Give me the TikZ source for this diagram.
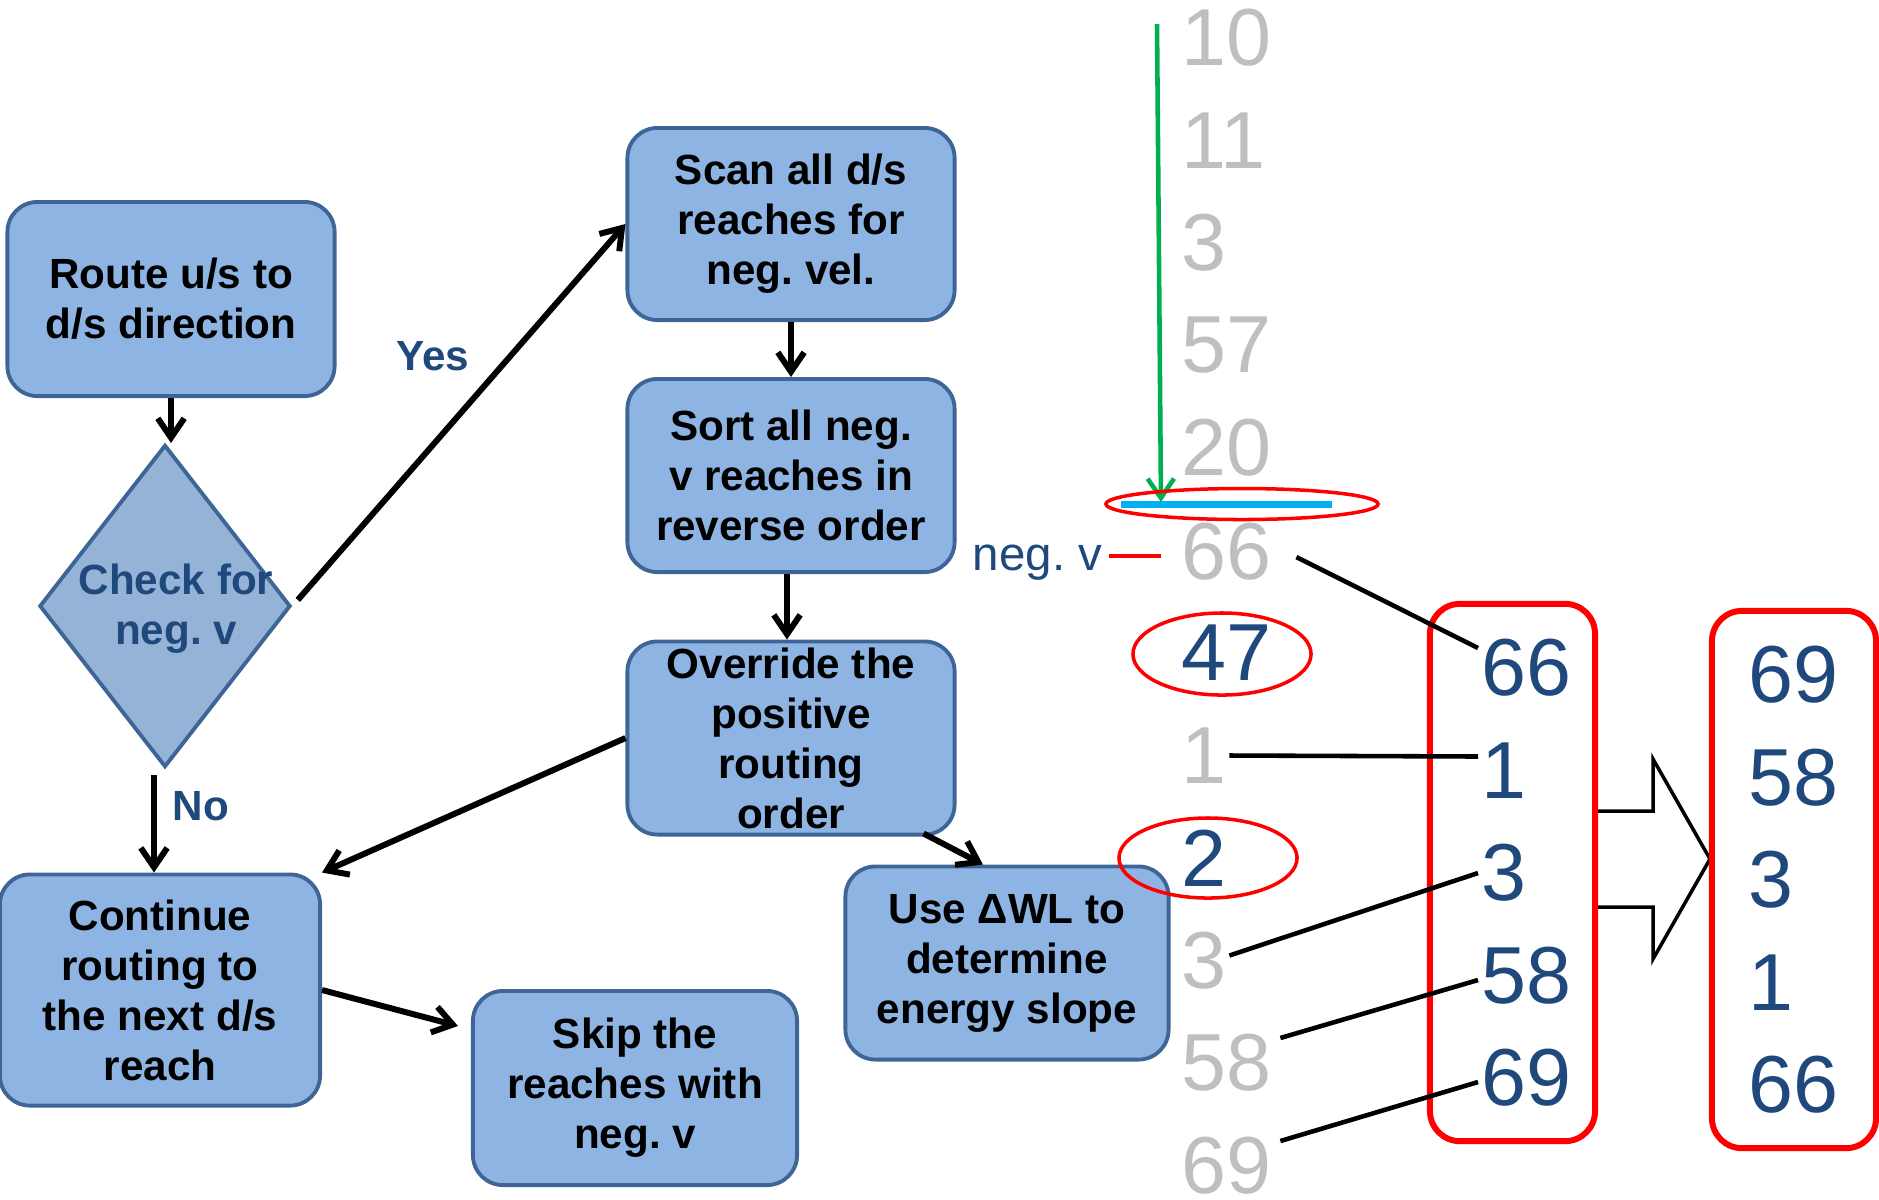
\documentclass[tikz,border=0pt]{standalone}
\usepackage{fontspec}
\setmainfont{Liberation Sans}
\usetikzlibrary{arrows.meta,shapes.geometric}
\definecolor{boxfill}{HTML}{8EB4E3}
\definecolor{boxline}{HTML}{3D6596}
\definecolor{diafill}{HTML}{95B3D7}
\definecolor{dblue}{HTML}{1F497D}
\definecolor{numgray}{HTML}{BFBFBF}
\definecolor{cyanline}{HTML}{00B0F0}
\definecolor{greenline}{HTML}{00B050}
\frenchspacing
\begin{document}
\begin{tikzpicture}[x=0.01cm,y=-0.01cm,
  flowbox/.style={draw=boxline, fill=boxfill, line width=1.1pt, rounded corners=0.3cm,
    align=center, inner sep=0pt, font=\bfseries\fontsize{12}{14.2}\selectfont, minimum width=3.27cm},
  arr/.style={line width=1.7pt, -{Straight Barb[length=5.5pt,width=7.5pt]}},
  gnum/.style={anchor=west, inner sep=0pt, text=numgray, font=\fontsize{23}{27}\selectfont},
  bnum/.style={gnum, text=dblue},
  link/.style={line width=1.3pt},
  redring/.style={draw=red, line width=1pt},
  redbox/.style={draw=red, line width=1.7pt, rounded corners=0.3cm, inner sep=0pt, minimum width=1.65cm, minimum height=5.37cm},
  lbl/.style={text=dblue, font=\bfseries\fontsize{12}{14.2}\selectfont, inner sep=0pt}
]
\useasboundingbox (0,0) rectangle (1879,1199);

% flowchart
\node[flowbox, minimum height=1.94cm] (route) at (171,299) {Route u/s to\\d/s direction};
\node[diamond, draw=boxline, fill=diafill, line width=1.1pt, minimum width=2.51cm,
  minimum height=3.22cm, inner sep=0pt] (dia) at (165,606) {};
\node[lbl, align=center] (diatext) at (176,609) {Check for\\neg. v};
\node[flowbox, minimum height=1.92cm] (scan) at (791,224) {Scan all d/s\\reaches for\\neg. vel.};
\node[flowbox, minimum height=1.93cm] (sort) at (791,475.5) {Sort all neg.\\v reaches in\\reverse order};
\node[flowbox, minimum height=1.93cm] (over) at (791,738) {Override the\\positive\\routing\\order};
\node[flowbox, minimum width=3.23cm, minimum height=1.93cm] (usewl) at (1007,963) {Use ΔWL to\\determine\\energy slope};
\node[flowbox, minimum width=3.20cm, minimum height=2.31cm] (cont) at (160,990) {Continue\\routing to\\the next d/s\\reach};
\node[flowbox, minimum width=3.24cm, minimum height=1.94cm] (skip) at (635,1088) {Skip the\\reaches with\\neg. v};

\node[lbl] (yes) at (433,356) {Yes};
\node[lbl] (no) at (201,806) {No};

\draw[arr] (route.south) -- (route.south |- dia.north);
\draw[arr, shorten <=2.3pt] (dia.east) -- (scan.west);
\draw[arr] ([xshift=-0.11cm,yshift=-0.06cm]dia.south) -- ([xshift=-0.06cm]cont.north);
\draw[arr] (scan.south) -- (sort.north);
\draw[arr] ([xshift=-0.04cm]sort.south) -- ([xshift=-0.04cm]over.north);
\draw[arr] (over.west) -- (cont.north east);
\draw[arr] ([xshift=-0.33cm,yshift=0.03cm]over.south east) -- ([xshift=-0.24cm]usewl.north);
\draw[arr] (cont.east) -- ([xshift=-0.13cm,yshift=0.62cm]skip.west);

% number column
\node[gnum] (g0) at (1181,38) {10};
\node[gnum] (g1) at (1181,140.5) {11};
\node[gnum] (g2) at (1181,243) {3};
\node[gnum] (g3) at (1181,345.5) {57};
\node[gnum] (g4) at (1181,448) {20};
\node[gnum] (g5) at (1181,552) {66};
\node[bnum] (g6) at (1181,653) {47};
\node[gnum] (g7) at (1181,755.5) {1};
\node[bnum] (g8) at (1181,858) {2};
\node[gnum] (g9) at (1181,960.5) {3};
\node[gnum] (g10) at (1181,1063) {58};
\node[gnum] (g11) at (1181,1165.5) {69};

% blue marker line and green arrow
\coordinate (cyL) at (1121,504);
\coordinate (cyR) at (1332,504);
\draw[cyanline, line width=2pt] (cyL) -- (cyR);
\coordinate (gstart) at (1157,24);
\coordinate (gend) at (1161,502);
\draw[greenline, line width=1.3pt, -{Straight Barb[length=5.5pt,width=7.5pt]}] (gstart) -- (gend);

% red ellipses
\draw[redring] (1242,504) ellipse [x radius=1.36cm, y radius=0.155cm];
\draw[redring] (1222,654) ellipse [x radius=0.89cm, y radius=0.41cm];
\draw[redring] (1208,858) ellipse [x radius=0.89cm, y radius=0.40cm];

% neg. v label
\node[text=dblue, font=\fontsize{13.5}{16}\selectfont, anchor=east, inner sep=0pt] (negv) at (1103,563) {neg. v};
\coordinate (negL) at (1109,556);
\coordinate (negR) at (1161,556);
\draw[red, line width=1pt] (negL) -- (negR);

% block arrow
\coordinate (ba1) at (1595,811);
\coordinate (ba2) at (1653,811);
\coordinate (ba3) at (1653,759);
\coordinate (ba4) at (1710,859);
\coordinate (ba5) at (1653,959);
\coordinate (ba6) at (1653,907);
\coordinate (ba7) at (1595,907);
\draw[fill=white, line width=1pt] (ba1) -- (ba2) -- (ba3) -- (ba4) -- (ba5) -- (ba6) -- (ba7);

% red boxes
\node[redbox] (rb1) at (1512.5,872.5) {};
\node[redbox, minimum width=1.64cm] (rb2) at (1794,879.5) {};

\node[bnum] (b0) at (1481,668) {66};
\node[bnum] (b1) at (1481,770.5) {1};
\node[bnum] (b2) at (1481,873) {3};
\node[bnum] (b3) at (1481,975.5) {58};
\node[bnum] (b4) at (1481,1078) {69};

\node[bnum] (c0) at (1748,675) {69};
\node[bnum] (c1) at (1748,777.5) {58};
\node[bnum] (c2) at (1748,880) {3};
\node[bnum] (c3) at (1748,982.5) {1};
\node[bnum] (c4) at (1748,1085) {66};

% links
\draw[link] ([xshift=0.24cm,yshift=-0.05cm]g5.east) -- ([xshift=-0.03cm,yshift=0.2cm]b0.west);
\draw[link] ([xshift=0.02cm]g7.east) -- ([xshift=-0.03cm,yshift=0.14cm]b1.west);
\draw[link] ([xshift=0.02cm,yshift=0.05cm]g9.east) -- ([xshift=-0.03cm]b2.west);
\draw[link] ([xshift=0.08cm,yshift=0.25cm]g10.east) -- ([xshift=-0.03cm,yshift=-0.045cm]b3.west);
\draw[link] ([xshift=0.08cm,yshift=0.245cm]g11.east) -- ([xshift=-0.03cm,yshift=-0.04cm]b4.west);
\end{tikzpicture}
\end{document}
